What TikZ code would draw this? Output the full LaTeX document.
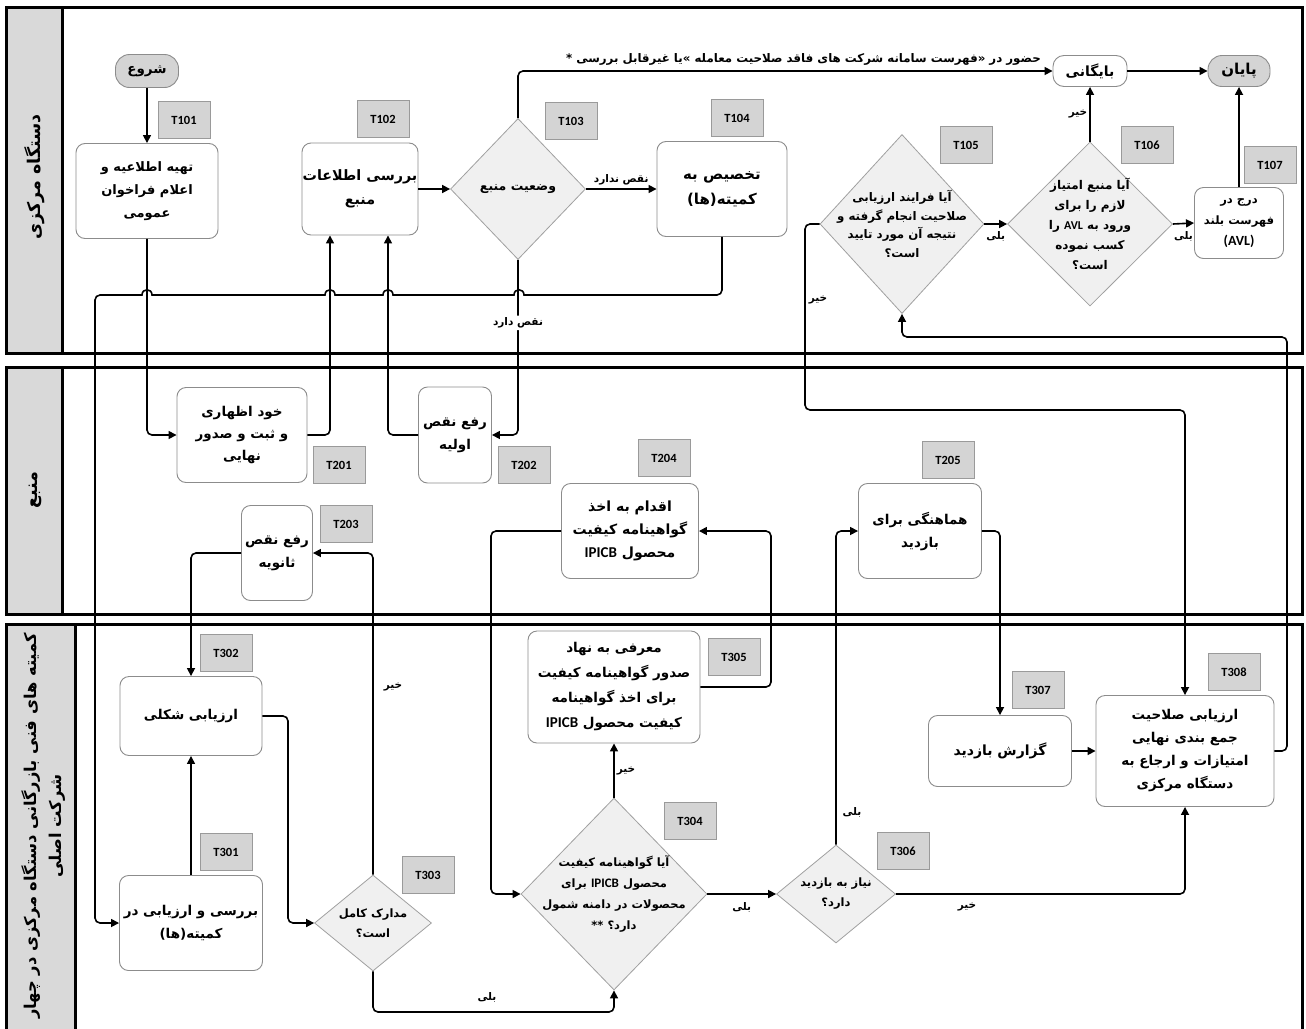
\documentclass[tikz,border=0pt]{standalone}
\usepackage{fontspec}
\usetikzlibrary{shapes.geometric,arrows.meta}
\TeXXeTstate=1
\newfontfamily\fa[Script=Arabic]{DejaVu Sans}
\newfontfamily\lat{Carlito}
\newcommand\rl[1]{\beginR#1\endR}
\newcommand\ltr[1]{\beginL{\lat\bfseries #1}\endL}
\newcommand\lblfont{\fa\bfseries\fontsize{10.5}{12}\selectfont}
\newcommand\hdrfont{\fa\bfseries\fontsize{17.5}{26}\selectfont}
\definecolor{tagfill}{HTML}{D4D4D4}
\definecolor{tagline}{HTML}{9A9A9A}
\definecolor{diafill}{HTML}{F0F0F0}
\definecolor{dialine}{HTML}{A0A0A0}
\definecolor{boxline}{HTML}{8C8C8C}
\definecolor{hdrfill}{HTML}{D9D9D9}
\begin{document}
\begin{tikzpicture}[x=1pt,y=-1pt,
  fz/.style 2 args={font=\fa\bfseries\fontsize{#1}{#2}\selectfont},
  lane/.style={line width=3pt,draw=black},
  box/.style={draw=boxline,line width=.9pt,rounded corners=9pt,fill=white,align=center,fz={13.5}{22},inner sep=0pt},
  pill/.style={draw=boxline,line width=.9pt,rounded corners=14pt,align=center,fz={14}{22},inner sep=0pt},
  dia/.style={diamond,draw=dialine,fill=diafill,line width=.8pt,inner sep=0pt},
  diatext/.style={align=center,fz={11.5}{20},inner sep=0pt},
  tag/.style={draw=tagline,fill=tagfill,line width=.9pt,font=\lat\bfseries\fontsize{12.5}{14}\selectfont,minimum width=52pt,minimum height=37pt,inner sep=0pt},
  flow/.style={line width=1.6pt,-{Triangle[length=8pt,width=8pt]},rounded corners=5pt},
  lbl/.style={font=\lblfont,inner sep=2pt},
  hdr/.style={font=\hdrfont,rotate=90,align=center}
]
\useasboundingbox (0,0) rectangle (1306,1028);
\clip (0,0) rectangle (1306,1028);
\fill[white] (0,0) rectangle (1306,1028);

% lanes
\draw[lane] (6,7) rectangle (1302,353);
\draw[lane,fill=hdrfill] (6,7) rectangle (62,353);
\draw[lane] (6,367) rectangle (1302,614);
\draw[lane,fill=hdrfill] (6,367) rectangle (62,614);
\draw[lane] (6,624) rectangle (1302,1045);
\draw[lane,fill=hdrfill] (6,624) rectangle (75,1045);
\node[hdr] (h1) at (35,177) {\rl{دستگاه مرکزی}};
\node[hdr] (h2) at (35,490) {\rl{منبع}};
\node[hdr,fz={16.3}{25}] (h3) at (44,826) {\rl{کمیته های فنی بازرگانی دستگاه مرکزی در چهار}\\\rl{شرکت اصلی}};

% lane 1
\node[pill,fill=tagfill,fz={13.5}{20},minimum width=63pt,minimum height=33pt] (start) at (147,71) {\rl{شروع}};
\node[box,fz={13}{23},minimum width=142pt,minimum height=95pt] (t101) at (147,191) {\rl{تهیه اطلاعیه و}\\\rl{اعلام فراخوان}\\\rl{عمومی}};
\node[box,fz={14.3}{24},minimum width=116pt,minimum height=92pt] (t102) at (360,189) {\rl{بررسی اطلاعات}\\\rl{منبع}};
\node[dia,minimum width=135pt,minimum height=141pt] (t103) at (518,189) {};
\node[diatext,fz={12.5}{20}] (t103t) at (t103.center) {\rl{وضعیت منبع}};
\node[box,fz={15}{25},minimum width=130pt,minimum height=95pt] (t104) at (722,189) {\rl{تخصیص به}\\\rl{کمیته(ها)}};
\node[dia,minimum width=164pt,minimum height=179pt] (t105) at (902,224) {};
\node[diatext,fz={11.8}{18.5}] (t105t) at (t105.center) {\rl{آیا فرایند ارزیابی}\\\rl{صلاحیت انجام گرفته و}\\\rl{نتیجه آن مورد تایید}\\\rl{است؟}};
\node[dia,minimum width=165pt,minimum height=164pt] (t106) at (1090,224) {};
\node[diatext,fz={12}{20}] (t106t) at (t106.center) {\rl{آیا منبع امتیاز}\\\rl{لازم را برای}\\\rl{ورود به \ltr{AVL} را}\\\rl{کسب نموده}\\\rl{است؟}};
\node[box,fz={11.5}{21},minimum width=89pt,minimum height=71pt] (t107) at (1239,223) {\rl{درج در}\\\rl{فهرست بلند}\\{\lat\bfseries\fontsize{14}{21}\selectfont (AVL)}};
\node[pill,fill=white,rounded corners=11pt,fz={14}{20},minimum width=74pt,minimum height=31pt] (arch) at (1090,71) {\rl{بایگانی}};
\node[pill,fill=tagfill,fz={15}{20},minimum width=62pt,minimum height=31pt] (end) at (1239,71) {\rl{پایان}};

% lane 2
\node[box,fz={13.5}{22},minimum width=130pt,minimum height=95pt] (t201) at (242,435) {\rl{خود اظهاری}\\\rl{و ثبت و صدور}\\\rl{نهایی}};
\node[box,fz={13.5}{23},minimum width=73pt,minimum height=96pt] (t202) at (455,435) {\rl{رفع نقص}\\\rl{اولیه}};
\node[box,fz={13.5}{23},minimum width=71pt,minimum height=95pt] (t203) at (277,553) {\rl{رفع نقص}\\\rl{ثانویه}};
\node[box,fz={14}{23},minimum width=137pt,minimum height=95pt] (t204) at (630,531) {\rl{اقدام به اخذ}\\\rl{گواهینامه کیفیت}\\\rl{محصول \ltr{\fontsize{15}{20}\selectfont IPICB}}};
\node[box,fz={13.5}{23},minimum width=123pt,minimum height=95pt] (t205) at (920,531) {\rl{هماهنگی برای}\\\rl{بازدید}};

% lane 3
\node[box,fz={13.5}{22},minimum width=142pt,minimum height=79pt] (t302) at (191,716) {\rl{ارزیابی شکلی}};
\node[box,fz={13.5}{23},minimum width=143pt,minimum height=95pt] (t301) at (191,923) {\rl{بررسی و ارزیابی در}\\\rl{کمیته(ها)}};
\node[dia,minimum width=117pt,minimum height=96pt] (t303) at (373,923) {};
\node[diatext,fz={11.5}{20}] (t303t) at (t303.center) {\rl{مدارک کامل}\\\rl{است؟}};
\node[dia,minimum width=186pt,minimum height=192pt] (t304) at (614,894) {};
\node[diatext,fz={11.5}{21}] (t304t) at (t304.center) {\rl{آیا گواهینامه کیفیت}\\\rl{محصول \ltr{\fontsize{13}{20}\selectfont IPICB} برای}\\\rl{محصولات در دامنه شمول}\\\rl{دارد؟ **}};
\node[box,fz={13.5}{25},minimum width=172pt,minimum height=112pt] (t305) at (614,687) {\rl{معرفی به نهاد}\\\rl{صدور گواهینامه کیفیت}\\\rl{برای اخذ گواهینامه}\\\rl{کیفیت محصول \ltr{\fontsize{15}{20}\selectfont IPICB}}};
\node[dia,minimum width=119pt,minimum height=98pt] (t306) at (836,894) {};
\node[diatext,fz={11.5}{20}] (t306t) at (t306.center) {\rl{نیاز به بازدید}\\\rl{دارد؟}};
\node[box,fz={14}{22},minimum width=143pt,minimum height=71pt] (t307) at (1000,751) {\rl{گزارش بازدید}};
\node[box,fz={13.5}{23},minimum width=178pt,minimum height=111pt] (t308) at (1185,751) {\rl{ارزیابی صلاحیت}\\\rl{جمع بندی نهایی}\\\rl{امتیازات و ارجاع به}\\\rl{دستگاه مرکزی}};

% tags
\node[tag] (g101) at (184,120) {T101};
\node[tag] (g102) at (383,119) {T102};
\node[tag] (g103) at (571,121) {T103};
\node[tag] (g104) at (737,118) {T104};
\node[tag] (g105) at (966,145) {T105};
\node[tag] (g106) at (1147,145) {T106};
\node[tag] (g107) at (1270,165) {T107};
\node[tag] (g201) at (339,465) {T201};
\node[tag] (g202) at (524,465) {T202};
\node[tag] (g203) at (346,524) {T203};
\node[tag] (g204) at (664,458) {T204};
\node[tag] (g205) at (948,460) {T205};
\node[tag] (g301) at (226,852) {T301};
\node[tag] (g302) at (226,653) {T302};
\node[tag] (g303) at (428,875) {T303};
\node[tag] (g304) at (690,821) {T304};
\node[tag] (g305) at (734,657) {T305};
\node[tag] (g306) at (903,851) {T306};
\node[tag] (g307) at (1038,690) {T307};
\node[tag] (g308) at (1234,672) {T308};

% connectors lane 1
\draw[flow] (start.south) -- (t101.north);
\draw[flow] (t102.east) -- (t103.west);
\draw[flow] (t103.east) -- (t104.west) node[lbl,midway,above=1pt] {\rl{نقص ندارد}};
\draw[flow] (t103.north) |- (arch.west) node[lbl,pos=0.767,above=3pt,fz={11.8}{14}] {\rl{حضور در «فهرست سامانه شرکت های فاقد صلاحیت معامله »یا غیرقابل بررسی *}};
\draw[flow] (arch.east) -- (end.west);
\draw[flow] (t106.north) -- (arch.south) node[lbl,midway,left] {\rl{خیر}};
\draw[flow] (t105.east) -- (t106.west) node[lbl,midway,below=5pt] {\rl{بلی}};
\draw[flow] (t106.east) -- (t107.west) node[lbl,midway,below=5pt] {\rl{بلی}};
\draw[flow] (t107.north) -- (end.south);
\draw[flow] (t105.west) -| (805,410) -| (t308.north);
\node[lbl] (no105) at (818,300) {\rl{خیر}};
\draw[flow] (t308.east) -| (1287,337) -| (t105.south);

% long connector with line jumps
\draw[line width=1.6pt,-{Triangle[length=8pt,width=8pt]}]
  (t104.south) [rounded corners=5pt] -- (722,295) -- (530,295) [sharp corners] -- (524,295)
  .. controls (524,288) and (514,288) .. (514,295) -- (393,295)
  .. controls (393,288) and (383,288) .. (383,295) -- (335,295)
  .. controls (335,288) and (325,288) .. (325,295) -- (152,295)
  .. controls (152,288) and (142,288) .. (142,295) -- (105,295)
  [rounded corners=5pt] -- (95,295) -- (95,923) -- (t301.west);

% lane 2 connectors
\draw[flow] (t101.south) |- (t201.west);
\draw[flow] (t201.east) -| ([xshift=-30pt]t102.south);
\draw[flow] (t103.south) |- (t202.east) node[lbl,pos=0.18,fill=white] {\rl{نقص دارد}};
\draw[flow] (t202.west) -| ([xshift=28pt]t102.south);
\draw[flow] (t203.west) -| (t302.north);
\draw[flow] (t303.north) |- (t203.east);
\node[lbl] (no303) at (393,687) {\rl{خیر}};
\draw[flow] (t204.west) -| (491,894) -- (t304.west);
\draw[flow] (t305.east) -| (771,531) -- (t204.east);
\draw[flow] (t306.north) |- (t205.west);
\node[lbl] (yes306) at (852,812) {\rl{بلی}};
\draw[flow] (t205.east) -| (t307.north);

% lane 3 connectors
\draw[flow] (t301.north) -- (t302.south);
\draw[flow] (t302.east) -| (288,923) -- (t303.west);
\draw[flow] (t303.south) |- (614,1012) -- (t304.south);
\node[lbl] (yes303) at (487,997) {\rl{بلی}};
\draw[flow] (t304.north) -- (t305.south) node[lbl,midway,right] {\rl{خیر}};
\draw[flow] (t304.east) -- (t306.west) node[lbl,midway,below=6pt] {\rl{بلی}};
\draw[flow] (t306.east) -| (t308.south);
\node[lbl] (no306) at (967,907) {\rl{خیر}};
\draw[flow] (t307.east) -- (t308.west);
\end{tikzpicture}
\end{document}
